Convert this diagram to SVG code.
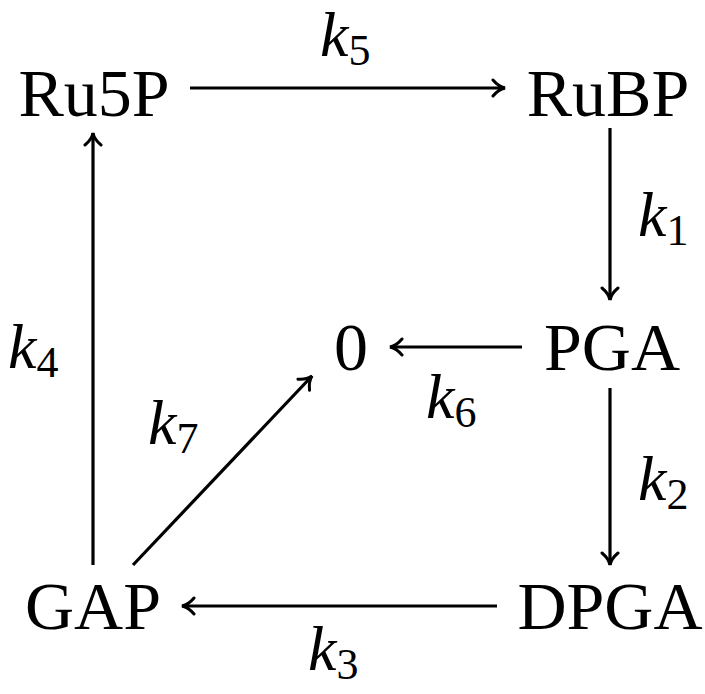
<svg xmlns="http://www.w3.org/2000/svg" width="705" height="694" viewBox="0 0 705 694">
<style>
.n{font-family:"Liberation Serif","DejaVu Serif",serif;font-size:68px;fill:#000;text-anchor:middle}
.k{font-family:"Liberation Serif","DejaVu Serif",serif;font-size:64px;font-style:italic;fill:#000}
.s{font-family:"Liberation Serif","DejaVu Serif",serif;font-size:44px;font-style:normal;fill:#000}
.e{stroke:#000;stroke-width:3.2;fill:none;marker-end:url(#ah)}
</style>
<defs>
<marker id="ah" viewBox="-14 -10 16 20" refX="0" refY="0" markerWidth="16" markerHeight="20" orient="auto" markerUnits="userSpaceOnUse">
<path d="M-12,-8 C-7.5,-2.6 -3,-0.6 0,0 C-3,0.6 -7.5,2.6 -12,8" stroke="#000" stroke-width="3" fill="none" stroke-linecap="round"/>
</marker>
</defs>
<g id="Ru5P"><text class="n" x="94" y="116">Ru5P</text></g>
<g id="RuBP"><text class="n" x="608" y="116">RuBP</text></g>
<g id="PGA"><text class="n" x="612" y="370">PGA</text></g>
<g id="zero"><text class="n" x="351" y="370">0</text></g>
<g id="GAP"><text class="n" x="93" y="629">GAP</text></g>
<g id="DPGA"><text class="n" x="610" y="629">DPGA</text></g>
<g id="connectors">
<line class="e" x1="190" y1="88" x2="505" y2="88"/>
<line class="e" x1="610" y1="128" x2="610" y2="300"/>
<line class="e" x1="610" y1="388" x2="610" y2="565"/>
<line class="e" x1="497" y1="606" x2="182" y2="606"/>
<line class="e" x1="93" y1="565" x2="93" y2="133"/>
<line class="e" x1="522" y1="347" x2="390" y2="347"/>
<line class="e" x1="133" y1="565" x2="312" y2="376"/>
</g>
<g id="labels">
<text class="k" x="320" y="56">k<tspan class="s" dy="9">5</tspan></text>
<text class="k" x="638" y="236">k<tspan class="s" dy="9">1</tspan></text>
<text class="k" x="8" y="368">k<tspan class="s" dy="9">4</tspan></text>
<text class="k" x="426" y="418">k<tspan class="s" dy="9">6</tspan></text>
<text class="k" x="148" y="444">k<tspan class="s" dy="9">7</tspan></text>
<text class="k" x="638" y="500">k<tspan class="s" dy="9">2</tspan></text>
<text class="k" x="308" y="670">k<tspan class="s" dy="9">3</tspan></text>
</g>
</svg>
